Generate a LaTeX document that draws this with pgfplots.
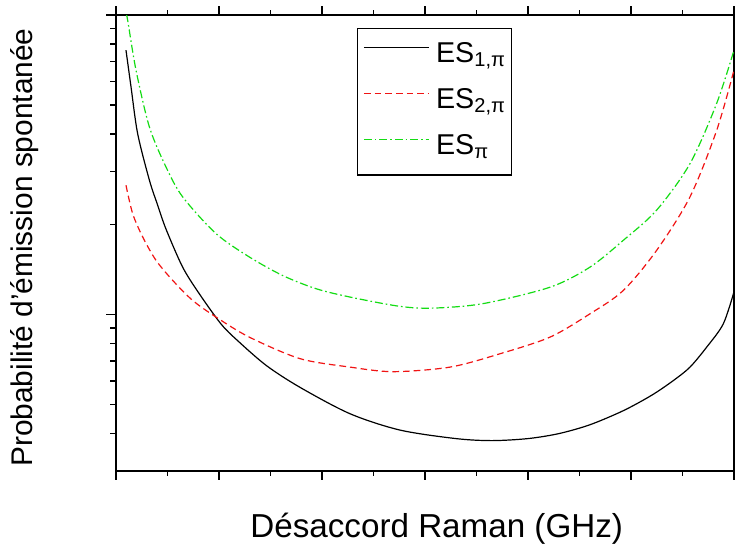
\documentclass[border=0pt]{standalone}
\usepackage{pgfplots}
\pgfplotsset{compat=1.18}
\usepackage{fontspec}
\setmainfont{Liberation Sans}
\definecolor{esred}{RGB}{240,20,20}
\definecolor{esgreen}{RGB}{20,220,20}
\begin{document}
\begin{tikzpicture}
\useasboundingbox (-87pt,-63.75pt) rectangle (465pt,353.25pt);
\begin{axis}[
 at={(0pt,0pt)}, anchor=south west,
 scale only axis,
 width=463.5pt, height=342pt,
 every axis/.append style={line width=1.4pt},
 ymode=log,
 xmin=0, xmax=6, ymin=0.003, ymax=0.1,
 xtick={0,1,2,3,4,5,6},
 xticklabels={0,1,2,3,4,5,6},
 ytick={0.01,0.1},
 yticklabels={{0,01},{0,1}},
 xmajorticks=false, xminorticks=false, ymajorticks=false, yminorticks=false,
 tick label style={font=\fontsize{19}{22}\selectfont},
 xticklabel style={yshift=-4pt},
 yticklabel style={xshift=-3pt},
 xlabel={Désaccord Raman (GHz)},
 ylabel={Probabilité d'émission spontanée},
 xlabel style={font=\fontsize{24.9}{28}\selectfont, at={(axis description cs:0.519,0)}, anchor=base, yshift=-49.5pt},
 ylabel style={font=\fontsize{22.4}{26}\selectfont, at={([xshift=-62.25pt]axis description cs:0,0.49)}, rotate=0, anchor=base},
 legend style={at={(axis description cs:0.3895,0.972)}, anchor=north west, draw=black, line width=0.8pt,
   font=\fontsize{21.5}{25}\selectfont, cells={anchor=west},
   nodes={inner sep=0pt, text height=16pt, text depth=6pt},
   row sep=12.5pt, column sep=5pt, inner xsep=4.5pt, inner ysep=9.5pt},
 legend image code/.code={\draw[#1] (0pt,6pt) -- (48.75pt,6pt);},
]
\addplot[black, line width=0.9pt, smooth] coordinates {
(0.097,0.0763) (0.146,0.0575) (0.21,0.0402) (0.324,0.0281) (0.404,0.0232) (0.485,0.0193)
(0.647,0.01439) (0.809,0.01172) (1.019,0.0093) (1.18,0.00818) (1.46,0.00675)
(1.786,0.00571) (2.272,0.00466) (2.757,0.00411) (3.3,0.00385) (3.65,0.00379)
(4.0,0.00385) (4.3,0.0040) (4.6,0.00428) (4.925,0.00477) (5.2,0.00537) (5.41,0.00601)
(5.573,0.00667) (5.735,0.00778) (5.896,0.0093) (6.0,0.0119)
};
\addlegendentry{ES\textsubscript{1,π}}
\addplot[esred, line width=0.9pt, smooth, dash pattern=on 5pt off 3pt] coordinates {
(0.097,0.0270) (0.162,0.0217) (0.259,0.01815) (0.388,0.01517) (0.55,0.0130)
(0.744,0.01114) (0.971,0.0098) (1.294,0.0084) (1.786,0.00712) (2.272,0.00667)
(2.69,0.00644) (3.243,0.00667) (3.728,0.00739) (4.214,0.0084) (4.602,0.01005)
(4.925,0.01202) (5.249,0.01637) (5.573,0.0247) (5.832,0.0412) (6.0,0.0655)
};
\addlegendentry{ES\textsubscript{2,π}}
\addplot[esgreen, line width=0.9pt, smooth, dash pattern=on 6pt off 2.2pt on 1.2pt off 2.2pt] coordinates {
(0.10,0.100) (0.113,0.0962) (0.194,0.0655) (0.324,0.0423) (0.485,0.0311) (0.647,0.0247)
(0.971,0.01862) (1.294,0.01556) (1.618,0.01349) (1.942,0.01219) (2.272,0.01143)
(2.757,0.01064) (3.08,0.0105) (3.566,0.01087) (4.214,0.01233) (4.602,0.01439)
(4.925,0.01768) (5.249,0.0223) (5.573,0.0319) (5.832,0.0507) (6.0,0.0763)
};
\addlegendentry{ES\textsubscript{π}}
\end{axis}
% axis tick marks (outward), at the positions of the axis above: x = 77.25pt per GHz, log y over 342pt
\foreach \t in {0,77.25,154.5,231.75,309,386.25,463.5} {
  \draw[black, line width=1.1pt] (\t pt,0pt) -- ++(0pt,-7pt);
  \draw[black, line width=1.1pt] (\t pt,342pt) -- ++(0pt,7pt);
}
\foreach \t in {38.625,115.875,193.125,270.375,347.625,424.875} {
  \draw[black, line width=1.1pt] (\t pt,0pt) -- ++(0pt,-4pt);
  \draw[black, line width=1.1pt] (\t pt,342pt) -- ++(0pt,4pt);
}
\foreach \t in {117.42,342} {
  \draw[black, line width=1.1pt] (0pt,\t pt) -- ++(-7.5pt,0pt);
}
\foreach \t in {28.06,49.82,67.60,82.64,95.66,107.15,185.03,224.57,252.63,274.40,292.18,307.21,320.23,331.72} {
  \draw[black, line width=1.1pt] (0pt,\t pt) -- ++(-4.5pt,0pt);
}
\end{tikzpicture}
\end{document}
